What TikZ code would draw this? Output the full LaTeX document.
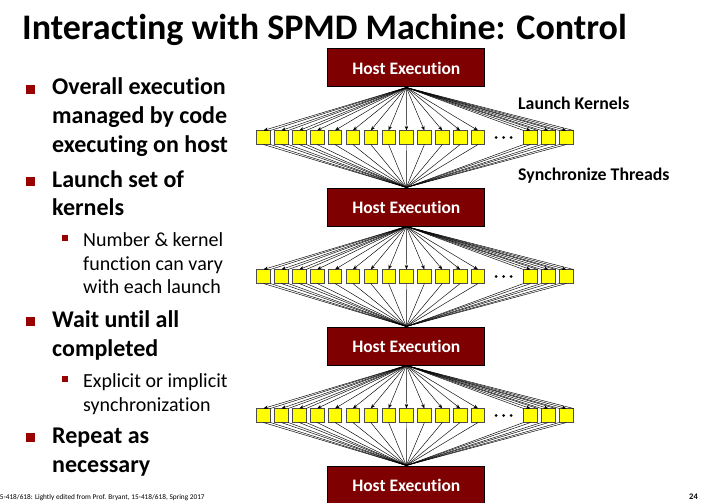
\documentclass[tikz,border=0pt]{standalone}
\usepackage{fontspec}
\setmainfont{Carlito}[Ligatures={NoCommon,NoContextual}]
\usetikzlibrary{arrows.meta}
\definecolor{hostred}{HTML}{7F0000}
\definecolor{bulletred}{HTML}{990000}
\definecolor{kernyellow}{HTML}{FFFF00}
\newcommand{\fsz}[1]{\fontsize{#1}{#1}\selectfont}

\begin{document}
\begin{tikzpicture}[x=1pt,y=-1pt,
  host/.style={draw=black, line width=1pt, fill=hostred, minimum width=157pt,
    minimum height=38pt, inner sep=0pt, text=white, font=\bfseries\fsz{17.5}},
  kern/.style={draw=black!70, line width=0.6pt, fill=kernyellow,
    minimum size=13.5pt, inner sep=0pt},
  launch/.style={line width=0.45pt, -{Stealth[length=4.5pt,width=3.4pt]}},
  sync/.style={line width=0.45pt},
  title/.style={anchor=base west, inner sep=0pt, font=\bfseries\fsz{36}},
  bigtext/.style={anchor=base west, inner sep=0pt, font=\bfseries\fsz{24}},
  subtext/.style={anchor=base west, inner sep=0pt, font=\fsz{20}},
  bigbullet/.style={fill=bulletred, minimum size=8.5pt, inner sep=0pt},
  subbullet/.style={fill=bulletred, minimum size=6.5pt, inner sep=0pt},
  label/.style={anchor=base west, inner sep=0pt, font=\bfseries\fsz{17.8}},
  footer/.style={inner sep=0pt, font=\fsz{7.3}}
]
\useasboundingbox (0,0) rectangle (702,503);

% title
\node[title] (ttl) at (22,40) {Interacting with SPMD Machine: Control};

% bullet list
\node[bigbullet] (b1) at (30.5,89.5) {};
\node[bigtext] (t1a) at (52,95) {Overall execution};
\node[bigtext] (t1b) at (52,123.5) {managed by code};
\node[bigtext] (t1c) at (52,152) {executing on host};

\node[bigbullet] (b2) at (30.5,181.5) {};
\node[bigtext] (t2a) at (52,187) {Launch set of};
\node[bigtext] (t2b) at (52,215) {kernels};

\node[subbullet] (s1) at (65,238) {};
\node[subtext] (u1a) at (83,246) {Number \& kernel};
\node[subtext] (u1b) at (83,270) {function can vary};
\node[subtext] (u1c) at (83,293.5) {with each launch};

\node[bigbullet] (b3) at (30.5,321.5) {};
\node[bigtext] (t3a) at (52,327) {Wait until all};
\node[bigtext] (t3b) at (52,356) {completed};

\node[subbullet] (s2) at (65,379) {};
\node[subtext] (u2a) at (83,387) {Explicit or implicit};
\node[subtext] (u2b) at (83,411) {synchronization};

\node[bigbullet] (b4) at (30.5,437.5) {};
\node[bigtext] (t4a) at (52,443) {Repeat as};
\node[bigtext] (t4b) at (52,472) {necessary};

% host execution phases
\foreach \r/\y in {1/68,2/207,3/346,4/485}
  \node[host] (h\r) at (406.3,\y) {Host Execution};

% kernel threads, three launches
\foreach \r/\y in {1/137.5,2/276.5,3/415.5}{
  \foreach \x [count=\i] in {263.5,281.4,299.3,317.1,335,352.9,370.8,388.6,
                             406.5,424.4,442.3,460.1,478,530.5,548.4,566.3}
    \node[kern] (k\r-\i) at (\x,\y) {};
  \foreach \d [count=\j] in {496,503.5,511}
    \fill (\d,\y) circle (1.5pt) coordinate (dots\r-\j);
}

% launch arrows and synchronisation lines
\foreach \r [evaluate=\r as \n using int(\r+1)] in {1,2,3}{
  \foreach \i in {1,...,16}{
    \draw[launch] (h\r.south) -- (k\r-\i.north);
    \draw[sync] (k\r-\i.south) -- (h\n.north);
  }
  \foreach \i in {1,2,3}{
    \draw[sync] (h\r.south) -- (k\r-\i.north east);
    \draw[sync] (k\r-\i.south east) -- (h\n.north);
  }
  \foreach \i in {14,15,16}{
    \draw[sync] (h\r.south) -- (k\r-\i.north west);
    \draw[sync] (h\r.south) -- (k\r-\i.north east);
    \draw[sync] (k\r-\i.south west) -- (h\n.north);
  }
}

% annotations
\node[label] (lk) at (518,110) {Launch Kernels};
\node[label] (st) at (518,180) {Synchronize Threads};

% footer
\node[footer, anchor=base west] (ft) at (-4,499) {15-418/618: Lightly edited from Prof. Bryant, 15-418/618, Spring 2017};
\node[footer, anchor=base west, font=\bfseries\fsz{8.5}] (pg) at (689,499) {24};
\end{tikzpicture}
\end{document}
